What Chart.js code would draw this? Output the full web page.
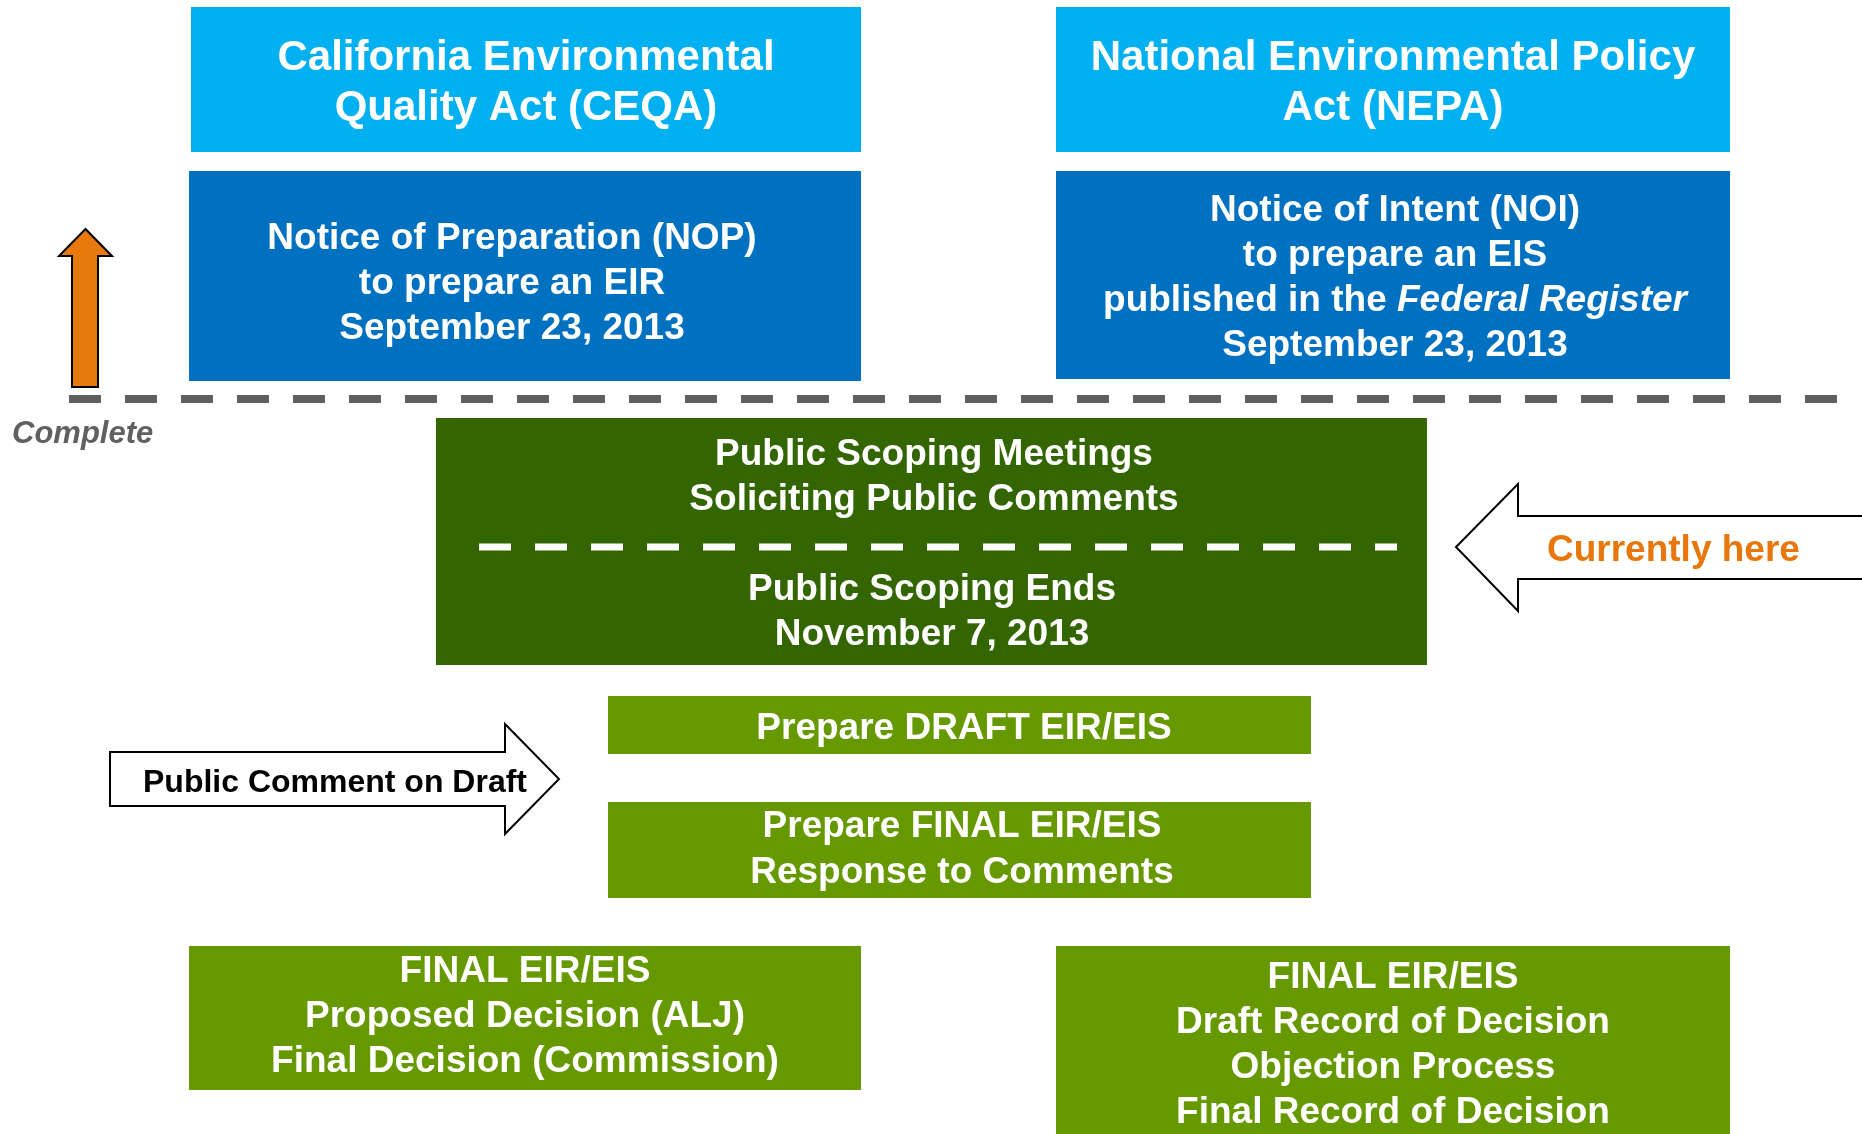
<!DOCTYPE html>
<html lang="en">
<head>
<meta charset="UTF-8" />
<title>CEQA / NEPA process</title>
<script src="https://cdn.jsdelivr.net/npm/chart.js"></script>
<style>
  html, body {
    margin: 0;
    padding: 0;
    background: #fff;
    overflow: hidden;
  }
  #flow {
    display: block;
  }
</style>
</head>
<body>

<canvas id="flow" width="1862" height="1134"></canvas>

<script>
// diagram units: one unit = one pixel of the original slide, y grows downward
var boxNames  = ["ceqa", "nepa", "nop", "noi", "scoping", "draft", "final", "ceqaFinal", "nepaFinal"];
var boxLeft   = [191, 1056, 189, 1056, 436, 608, 608, 189, 1056];
var boxRight  = [861, 1730, 861, 1730, 1427, 1311, 1311, 861, 1730];
var boxTop    = [7, 7, 171, 171, 418, 696, 802, 946, 946];
var boxBottom = [152, 152, 381, 379, 665, 754, 898, 1090, 1140];
var boxColors = ["#00B0F0", "#00B0F0", "#0070C0", "#0070C0", "#336600", "#669900", "#669900", "#669900", "#669900"];

// text blocks: lines, centre x, first baseline, font size, line step
// a line wrapped in |...| is set in italics
var textLines = [
  ["California Environmental", "Quality Act (CEQA)"],
  ["National Environmental Policy", "Act (NEPA)"],
  ["Notice of Preparation (NOP)", "to prepare an EIR", "September 23, 2013"],
  ["Notice of Intent (NOI)", "to prepare an EIS", "published in the |Federal Register|", "September 23, 2013"],
  ["Public Scoping Meetings", "Soliciting Public Comments"],
  ["Public Scoping Ends", "November 7, 2013"],
  ["Prepare DRAFT EIR/EIS"],
  ["Prepare FINAL EIR/EIS", "Response to Comments"],
  ["FINAL EIR/EIS", "Proposed Decision (ALJ)", "Final Decision (Commission)"],
  ["FINAL EIR/EIS", "Draft Record of Decision", "Objection Process", "Final Record of Decision"]
];
var textX     = [526, 1393, 512, 1395, 934, 932, 964, 962, 525, 1393];
var textY     = [70, 70, 249, 221, 465, 600, 739, 837, 982, 988];
var textSize  = [42, 42, 37, 37, 37, 37, 37, 37, 37, 37];
var textStep  = [50, 50, 45, 45, 45, 45, 45, 46, 45, 45];

// dashed separators
var completeLineX = [69, 1838];
var completeLineY = 399;
var scopingLineX  = [479, 1397];
var scopingLineY  = 547;

// arrows as outline polygons
var upArrowX      = [72, 72, 59, 85.5, 112, 98, 98];
var upArrowY      = [387, 256, 256, 229, 256, 256, 387];
var commentArrowX = [110, 505, 505, 559, 505, 505, 110];
var commentArrowY = [752, 752, 724, 779, 834, 806, 806];
var hereArrowX    = [1870, 1518, 1518, 1456, 1518, 1518, 1870];
var hereArrowY    = [516, 516, 484, 547, 611, 579, 579];

var FONT = "'Liberation Sans', Arial, Helvetica, sans-serif";

function polygon(ctx, xs, ys, sx, sy, fill, stroke) {
  ctx.beginPath();
  for (var i = 0; i < xs.length; i++) {
    var px = sx.getPixelForValue(xs[i]);
    var py = sy.getPixelForValue(ys[i]);
    if (i === 0) ctx.moveTo(px, py); else ctx.lineTo(px, py);
  }
  ctx.closePath();
  ctx.fillStyle = fill;
  ctx.fill();
  ctx.lineWidth = 2;
  ctx.lineJoin = "miter";
  ctx.strokeStyle = stroke;
  ctx.stroke();
}

function drawLine(ctx, str, cx, y, size, color) {
  var parts = str.split("|");
  var widths = [];
  var total = 0;
  for (var i = 0; i < parts.length; i++) {
    ctx.font = (i % 2 ? "italic " : "") + "bold " + size + "px " + FONT;
    widths.push(ctx.measureText(parts[i]).width);
    total += widths[i];
  }
  var x = cx - total / 2;
  ctx.textAlign = "left";
  ctx.textBaseline = "alphabetic";
  ctx.fillStyle = color;
  for (var j = 0; j < parts.length; j++) {
    ctx.font = (j % 2 ? "italic " : "") + "bold " + size + "px " + FONT;
    ctx.fillText(parts[j], x, y);
    x += widths[j];
  }
}

var diagram = {
  id: "diagram",
  beforeDatasetsDraw: function(chart) {
    var ctx = chart.ctx, sx = chart.scales.x, sy = chart.scales.y;
    ctx.save();
    for (var i = 0; i < boxNames.length; i++) {
      var x0 = sx.getPixelForValue(boxLeft[i]);
      var x1 = sx.getPixelForValue(boxRight[i]);
      var y0 = sy.getPixelForValue(boxTop[i]);
      var y1 = sy.getPixelForValue(boxBottom[i]);
      ctx.fillStyle = boxColors[i];
      ctx.fillRect(x0, y0, x1 - x0, y1 - y0);
    }
    polygon(ctx, upArrowX, upArrowY, sx, sy, "#E8790C", "#000");
    polygon(ctx, commentArrowX, commentArrowY, sx, sy, "#fff", "#000");
    polygon(ctx, hereArrowX, hereArrowY, sx, sy, "#fff", "#000");
    ctx.restore();
  },
  afterDatasetsDraw: function(chart) {
    var ctx = chart.ctx, sx = chart.scales.x, sy = chart.scales.y;
    ctx.save();
    for (var i = 0; i < textLines.length; i++) {
      for (var k = 0; k < textLines[i].length; k++) {
        drawLine(ctx, textLines[i][k], sx.getPixelForValue(textX[i]),
          sy.getPixelForValue(textY[i] + k * textStep[i]), textSize[i], "#fff");
      }
    }
    // side labels
    ctx.textAlign = "left";
    ctx.textBaseline = "alphabetic";
    ctx.font = "italic bold 31px " + FONT;
    ctx.fillStyle = "#606060";
    ctx.fillText("Complete", sx.getPixelForValue(12), sy.getPixelForValue(443));
    ctx.font = "bold 32px " + FONT;
    ctx.fillStyle = "#000";
    ctx.fillText("Public Comment on Draft", sx.getPixelForValue(143), sy.getPixelForValue(792));
    ctx.font = "bold 37px " + FONT;
    ctx.fillStyle = "#E8770B";
    ctx.fillText("Currently here", sx.getPixelForValue(1547), sy.getPixelForValue(561));
    ctx.restore();
  }
};

new Chart(document.getElementById("flow"), {
  type: "scatter",
  data: {
    datasets: [
      {
        label: "complete",
        data: [{ x: completeLineX[0], y: completeLineY }, { x: completeLineX[1], y: completeLineY }],
        showLine: true,
        borderColor: "#5F5F5F",
        borderWidth: 8,
        borderDash: [32, 24],
        borderCapStyle: "butt",
        pointRadius: 0
      },
      {
        label: "scoping ends",
        data: [{ x: scopingLineX[0], y: scopingLineY }, { x: scopingLineX[1], y: scopingLineY }],
        showLine: true,
        borderColor: "#FFFFFF",
        borderWidth: 7,
        borderDash: [32, 24],
        borderCapStyle: "butt",
        pointRadius: 0
      }
    ]
  },
  options: {
    responsive: false,
    animation: false,
    devicePixelRatio: 1,
    layout: { padding: 0 },
    plugins: {
      legend: { display: false },
      tooltip: { enabled: false }
    },
    scales: {
      x: { type: "linear", min: 0, max: 1862, display: false },
      y: { type: "linear", min: 0, max: 1134, reverse: true, display: false }
    }
  },
  plugins: [diagram]
});
</script>

</body>
</html>
